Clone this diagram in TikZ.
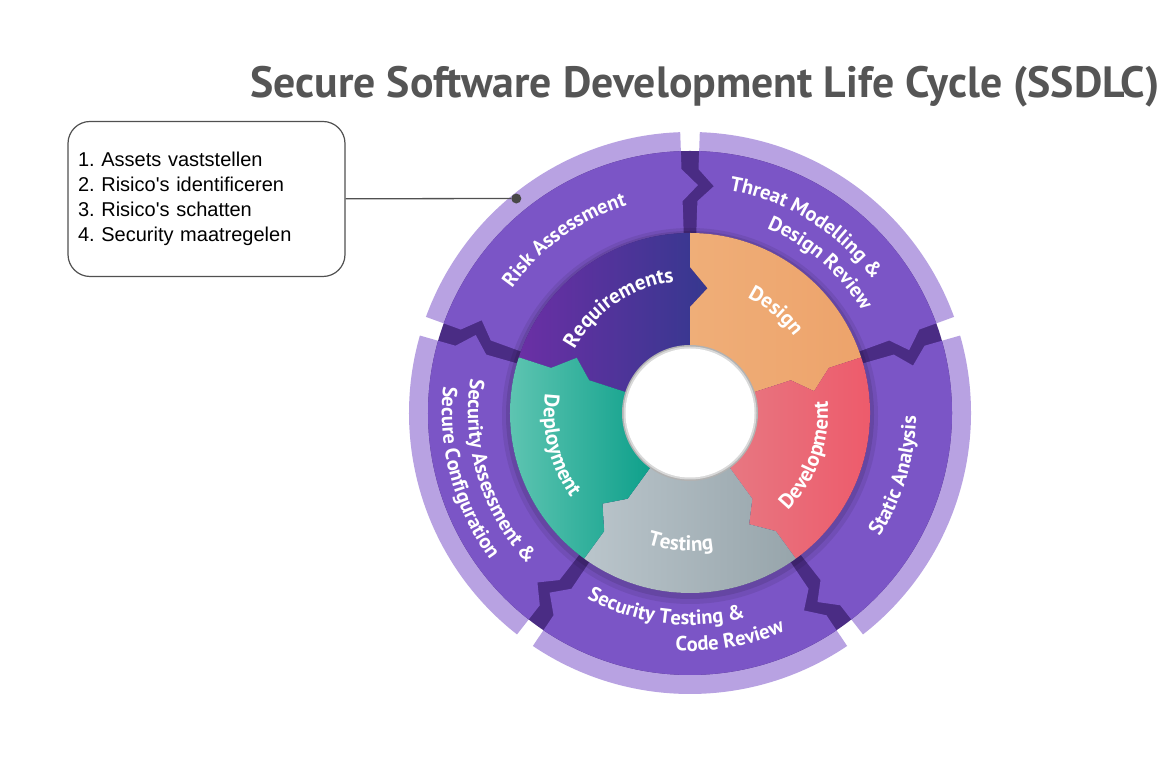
\documentclass[tikz,border=0pt]{standalone}
\usepackage{fontspec}
\setsansfont{PT Sans}
\newfontfamily\calloutfont{Liberation Sans}
\usetikzlibrary{decorations.text,positioning}
\definecolor{titlegray}{HTML}{555555}
\definecolor{rimlilac}{HTML}{B8A2E2}
\definecolor{segpurple}{HTML}{7B55C6}
\definecolor{dividerpurple}{HTML}{4A2C84}
\definecolor{reqleft}{HTML}{6B2FA5}
\definecolor{reqright}{HTML}{36388F}
\definecolor{designleft}{HTML}{EFAE78}
\definecolor{designright}{HTML}{EDA36B}
\definecolor{devleft}{HTML}{E77882}
\definecolor{devright}{HTML}{EE5869}
\definecolor{testleft}{HTML}{BAC5CB}
\definecolor{testright}{HTML}{97A5AB}
\definecolor{depleft}{HTML}{66C8B5}
\definecolor{depright}{HTML}{0C9F8A}
\definecolor{calloutgray}{HTML}{505050}
\newcommand{\wheelfont}{\sffamily\bfseries\fontsize{20.5}{22}\selectfont\color{white}}
\newcommand{\phasefont}{\sffamily\bfseries\fontsize{21}{22}\selectfont\color{white}}
\tikzset{
  rim-strip/.style 2 args={insert path={({#1-2}:258pt) arc[start angle={#1-2}, end angle={#2+2}, radius=258pt]
    -- ({#2+2}:281pt) arc[start angle={#2+2}, end angle={#1-2}, radius=281pt] -- cycle}},
  outer-seg/.style 2 args={insert path={({#1-2}:180pt) -- ({#1-2}:212pt) -- ({#1-6}:228pt) -- ({#1-2}:244pt)
    -- ({#1-2}:262pt) arc[start angle={#1-2}, end angle={#2+2}, radius=262pt]
    -- ({#2+2}:244pt) -- ({#2-2}:228pt) -- ({#2+2}:212pt) -- ({#2+2}:180pt)
    arc[start angle={#2+2}, end angle={#1-2}, radius=180pt] -- cycle}},
  phase-seg/.style 2 args={insert path={(#1:60pt) -- (#1:106pt) -- ({#1-8}:126pt) -- (#1:146pt) -- (#1:180pt)
    arc[start angle=#1, end angle=#2, radius=180pt]
    -- (#2:146pt) -- ({#2-8}:126pt) -- (#2:106pt) -- (#2:60pt)
    arc[start angle=#2, end angle=#1, radius=60pt] -- cycle}},
  wheel-label/.style={decorate, decoration={text along path, text align=center, text={|\wheelfont|#1}}},
  phase-label/.style={decorate, decoration={text along path, text align=center, text={|\phasefont|#1}}},
  callout-box/.style={draw=calloutgray, line width=1.2pt, rounded corners=22pt, minimum width=277pt,
    minimum height=155pt, text width=257pt, align=left, inner xsep=10pt,
    font=\calloutfont\fontsize{20}{25}\selectfont\frenchspacing},
  callout-line/.style={draw=calloutgray, line width=1.3pt},
  dot/.style={circle, fill=calloutgray!90!black, minimum size=10pt, inner sep=0pt}
}

\begin{document}
\begin{tikzpicture}[x=1pt, y=1pt]
  \fill[white] (0,0) rectangle (1176,763);
  \useasboundingbox (0,0) rectangle (1176,763);

  % title
  \node[font=\sffamily\bfseries\fontsize{43.8}{45}\selectfont, text=titlegray] (title) at (705,676)
    {Secure Software Development Life Cycle (SSDLC)};

  % callout with the risk steps
  \node[callout-box] (callout) at (206.5,564)
    {1. Assets vaststellen\\2. Risico's identificeren\\3. Risico's schatten\\4. Security maatregelen};

  \begin{scope}[shift={(690,350)}]
    % outer ring: lilac rims, dark dividers, purple segments
    \foreach \a/\b in {162/90, 90/18, 18/-54, -54/-126, 234/162}
      \fill[rimlilac, rim-strip={\a}{\b}];
    \fill[dividerpurple] (0,0) circle[radius=262pt];
    \foreach \a/\b in {162/90, 90/18, 18/-54, -54/-126, 234/162}
      \fill[segpurple, outer-seg={\a}{\b}];

    % shadow under the inner ring
    \fill[black, opacity=0.08] (0,-3) circle[radius=188pt];
    \fill[black, opacity=0.10] (0,-2) circle[radius=184pt];

    % inner ring: the five phases
    \shade[left color=reqleft, right color=reqright, phase-seg={162}{90}];
    \shade[left color=designleft, right color=designright, phase-seg={90}{18}];
    \shade[left color=devleft, right color=devright, phase-seg={18}{-54}];
    \shade[left color=testleft, right color=testright, phase-seg={-54}{-126}];
    \shade[left color=depleft, right color=depright, phase-seg={234}{162}];

    % hole
    \fill[black!30] (0,0) circle[radius=68pt];
    \fill[black!15] (0,0) circle[radius=66.5pt];
    \fill[white] (0,0) circle[radius=64.5pt];

    % outer labels
    \path[wheel-label={Risk Assessment}] (171:217pt) arc[start angle=171, end angle=81, radius=217pt];
    \path[wheel-label={Threat Modelling {\&}}] (103:226pt) arc[start angle=103, end angle=13, radius=226pt];
    \path[wheel-label={Design Review}] (94:200pt) arc[start angle=94, end angle=4, radius=200pt];
    \path[wheel-label={Static Analysis}] (-62:226pt) arc[start angle=-62, end angle=28, radius=226pt];
    \path[wheel-label={Security Testing {\&}}] (218:212pt) arc[start angle=218, end angle=308, radius=212pt];
    \path[wheel-label={Code Review}] (235:238pt) arc[start angle=235, end angle=325, radius=238pt];
    \path[wheel-label={Security Assessment {\&}}] (152:222pt) arc[start angle=152, end angle=242, radius=222pt];
    \path[wheel-label={Secure Configuration}] (150:248pt) arc[start angle=150, end angle=240, radius=248pt];

    % phase labels
    \path[phase-label={Requirements}] (169:132pt) arc[start angle=169, end angle=79, radius=132pt];
    \path[phase-label={Design}] (95:129pt) arc[start angle=95, end angle=5, radius=129pt];
    \path[phase-label={Development}] (-65:138pt) arc[start angle=-65, end angle=25, radius=138pt];
    \path[phase-label={Testing}] (221:138pt) arc[start angle=221, end angle=311, radius=138pt];
    \path[phase-label={Deployment}] (149:146pt) arc[start angle=149, end angle=239, radius=146pt];

    % marker on the risk segment
    \node[dot] (riskdot) at (129:276pt) {};
  \end{scope}

  \draw[callout-line] (callout) -- (riskdot);
\end{tikzpicture}
\end{document}
